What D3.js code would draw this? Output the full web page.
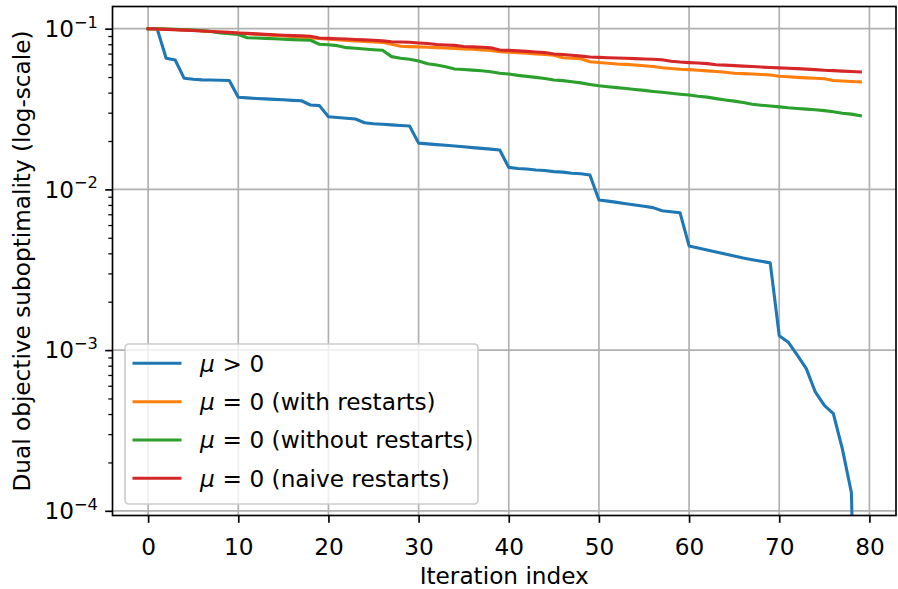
<!DOCTYPE html>
<html>
<head>
<meta charset="utf-8">
<script src="https://cdn.jsdelivr.net/npm/d3@7"></script>
<style>
  body { margin: 0; background: #fff; }
  svg { display: block; font-family: "DejaVu Sans", sans-serif; }
</style>
</head>
<body>
<svg id="chart" width="898" height="589"></svg>
<script>
// ---------- data ----------
const iterations = d3.range(0, 80);

const muPositive = [
  0.1, 0.1, 0.0655, 0.0638, 0.0491, 0.0484, 0.0480, 0.0479, 0.0478, 0.0476,
  0.0374, 0.0371, 0.0368, 0.0366, 0.0363, 0.0361, 0.0358, 0.0356, 0.0335, 0.0332,
  0.0283, 0.0280, 0.0277, 0.0274, 0.0260, 0.0256, 0.0254, 0.0252, 0.0250, 0.0248,
  0.0194, 0.0192, 0.0190, 0.0188, 0.0186, 0.0184, 0.0182, 0.0180, 0.0178, 0.0176,
  0.0137, 0.0135, 0.0134, 0.0132, 0.0131, 0.0129, 0.0128, 0.0126, 0.0125, 0.0123,
  0.00860, 0.00845, 0.00830, 0.00815, 0.00800, 0.00785, 0.00770, 0.00736, 0.00725, 0.00715,
  0.00445, 0.00432, 0.00420, 0.00408, 0.00396, 0.00385, 0.00374, 0.00365, 0.00357, 0.00349,
  0.00123, 0.00112, 0.00093, 0.000767, 0.000549, 0.000453, 0.000402, 0.000243, 0.000130, 0.000001
];

const muZeroWith = [
  0.1, 0.0996, 0.0992, 0.0987, 0.0982, 0.0976, 0.0969, 0.0961, 0.0953, 0.0946,
  0.0938, 0.0931, 0.0924, 0.0917, 0.0909, 0.0901, 0.0893, 0.0885, 0.0877, 0.0868,
  0.0860, 0.0853, 0.0846, 0.0839, 0.0832, 0.0826, 0.0822, 0.0800, 0.0777, 0.0773,
  0.0770, 0.0766, 0.0762, 0.0758, 0.0754, 0.0749, 0.0744, 0.0738, 0.0733, 0.0718,
  0.0714, 0.0709, 0.0703, 0.0697, 0.0690, 0.0683, 0.0660, 0.0655, 0.0650, 0.0622,
  0.0616, 0.0610, 0.0603, 0.0600, 0.0594, 0.0588, 0.0582, 0.0571, 0.0565, 0.0559,
  0.0556, 0.0551, 0.0546, 0.0541, 0.0536, 0.0528, 0.0525, 0.0522, 0.0519, 0.0515,
  0.0506, 0.0502, 0.0498, 0.0494, 0.0491, 0.0488, 0.0476, 0.0472, 0.0469, 0.0466
];

const muZeroWithout = [
  0.1, 0.0998, 0.0995, 0.0990, 0.0985, 0.0980, 0.0970, 0.0960, 0.0940, 0.0930,
  0.0920, 0.0879, 0.0875, 0.0870, 0.0866, 0.0860, 0.0855, 0.0850, 0.0847, 0.0800,
  0.0795, 0.0784, 0.0762, 0.0755, 0.0748, 0.0740, 0.0734, 0.0670, 0.0655, 0.0645,
  0.0630, 0.0605, 0.0595, 0.0580, 0.0561, 0.0557, 0.0552, 0.0547, 0.0540, 0.0528,
  0.0522, 0.0512, 0.0505, 0.0498, 0.0490, 0.0479, 0.0475, 0.0468, 0.0460, 0.0450,
  0.0441, 0.0435, 0.0430, 0.0424, 0.0418, 0.0413, 0.0407, 0.0402, 0.0396, 0.0391,
  0.0387, 0.0380, 0.0375, 0.0367, 0.0360, 0.0354, 0.0347, 0.0339, 0.0334, 0.0330,
  0.0326, 0.0322, 0.0319, 0.0316, 0.0313, 0.0309, 0.0304, 0.0298, 0.0294, 0.0287
];

const muZeroNaive = [
  0.1, 0.0995, 0.0990, 0.0985, 0.0980, 0.0975, 0.0968, 0.0960, 0.0954, 0.0948,
  0.0940, 0.0935, 0.0928, 0.0922, 0.0916, 0.0910, 0.0905, 0.0902, 0.0898, 0.0875,
  0.0870, 0.0866, 0.0862, 0.0857, 0.0852, 0.0848, 0.0840, 0.0830, 0.0826, 0.0823,
  0.0815, 0.0808, 0.0798, 0.0792, 0.0787, 0.0775, 0.0770, 0.0766, 0.0760, 0.0737,
  0.0733, 0.0728, 0.0722, 0.0716, 0.0710, 0.0695, 0.0690, 0.0683, 0.0675, 0.0667,
  0.0663, 0.0660, 0.0657, 0.0654, 0.0651, 0.0648, 0.0645, 0.0640, 0.0627, 0.0620,
  0.0615, 0.0611, 0.0606, 0.0597, 0.0593, 0.0589, 0.0585, 0.0581, 0.0577, 0.0573,
  0.0570, 0.0567, 0.0564, 0.0560, 0.0556, 0.0551, 0.0548, 0.0544, 0.0541, 0.0538
];

const seriesNames = ["μ > 0", "μ = 0 (with restarts)", "μ = 0 (without restarts)", "μ = 0 (naive restarts)"];
const seriesColors = ["#1f77b4", "#ff7f0e", "#2ca02c", "#d62728"];
const seriesValues = [muPositive, muZeroWith, muZeroWithout, muZeroNaive];

const xTicks = [0, 10, 20, 30, 40, 50, 60, 70, 80];
const yTicks = [1e-1, 1e-2, 1e-3, 1e-4];
const yTickExponents = ["−1", "−2", "−3", "−4"];
const xDomain = [-3.95, 82.95];
const yDomain = [9.35e-5, 0.1374];

// ---------- layout ----------
const L = 112.5, R = 896, T = 6.5, B = 515.5;
const FS = 23.2;
const svg = d3.select("#chart");

const x = d3.scaleLinear().domain(xDomain).range([L, R]);
const y = d3.scaleLog().domain(yDomain).range([B, T]);

svg.append("defs").append("clipPath").attr("id", "clip")
  .append("rect").attr("x", L).attr("y", T).attr("width", R - L).attr("height", B - T);

// grid
const grid = svg.append("g");
grid.selectAll(".gx").data(xTicks).join("line")
  .attr("x1", d => x(d)).attr("x2", d => x(d)).attr("y1", T).attr("y2", B)
  .attr("stroke", "#b0b0b0").attr("stroke-width", 1.67);
grid.selectAll(".gy").data(yTicks).join("line")
  .attr("x1", L).attr("x2", R).attr("y1", d => y(d)).attr("y2", d => y(d))
  .attr("stroke", "#b0b0b0").attr("stroke-width", 1.67);

// lines
const line = d3.line().x((d, i) => x(iterations[i])).y(d => y(d));
const lines = svg.append("g").attr("clip-path", "url(#clip)");
seriesValues.forEach((vals, k) => {
  lines.append("path").datum(vals)
    .attr("d", line)
    .attr("fill", "none")
    .attr("stroke", seriesColors[k])
    .attr("stroke-width", 3.1)
    .attr("stroke-linejoin", "round")
    .attr("stroke-linecap", "square");
});

// axes
const xAxis = d3.axisBottom(x).tickValues(xTicks).tickSize(7.3).tickPadding(7.3).tickFormat(d3.format("d"));
const gx = svg.append("g").attr("transform", `translate(0,${B})`).call(xAxis);
gx.select(".domain").remove();
gx.selectAll(".tick line").attr("stroke", "#000").attr("stroke-width", 1.67);
gx.selectAll(".tick text").attr("font-size", FS).attr("fill", "#000")
  .attr("font-family", "DejaVu Sans")
  .attr("y", 39).attr("dy", null);

// y axis: major + minor ticks
const minor = [];
for (let e = -5; e <= -1; e++) for (let m = 2; m <= 9; m++) {
  const v = m * Math.pow(10, e);
  if (v >= yDomain[0] && v <= yDomain[1]) minor.push(v);
}
const gy = svg.append("g").attr("transform", `translate(${L},0)`);
gy.call(d3.axisLeft(y).tickValues(minor).tickSize(4.2).tickFormat(""));
gy.select(".domain").remove();
gy.selectAll(".tick line").attr("stroke", "#000").attr("stroke-width", 1.25);
const gyM = svg.append("g").attr("transform", `translate(${L},0)`);
gyM.call(d3.axisLeft(y).tickValues(yTicks).tickSize(7.3).tickFormat(""));
gyM.select(".domain").remove();
gyM.selectAll(".tick line").attr("stroke", "#000").attr("stroke-width", 1.67);

// y tick labels 10^{-k}
yTicks.forEach((v, i) => {
  const t = svg.append("text")
    .attr("x", L - 14.6).attr("y", y(v) + 8.4)
    .attr("text-anchor", "end").attr("font-size", FS).attr("fill", "#000");
  t.append("tspan").text("10");
  t.append("tspan").attr("dy", -9.5).attr("font-size", FS * 0.7).text(yTickExponents[i]);
});

// spines
svg.append("rect").attr("x", L).attr("y", T).attr("width", R - L).attr("height", B - T)
  .attr("fill", "none").attr("stroke", "#000").attr("stroke-width", 1.67);

// axis labels
svg.append("text").attr("x", (L + R) / 2).attr("y", 584)
  .attr("text-anchor", "middle").attr("font-size", FS).attr("fill", "#000")
  .text("Iteration index");
svg.append("text").attr("transform", `translate(30,${(T + B) / 2}) rotate(-90)`)
  .attr("text-anchor", "middle").attr("font-size", FS).attr("fill", "#000")
  .text("Dual objective suboptimality (log-scale)");

// legend
const lg = svg.append("g");
lg.append("rect").attr("x", 125).attr("y", 344).attr("width", 353).attr("height", 160)
  .attr("rx", 4).attr("fill", "#fff").attr("fill-opacity", 0.8)
  .attr("stroke", "#cccccc").attr("stroke-width", 1.67);
const rowY = [363.3, 401.7, 440, 478.3];
seriesNames.forEach((name, k) => {
  lg.append("line").attr("x1", 132.5).attr("x2", 181.5)
    .attr("y1", rowY[k]).attr("y2", rowY[k])
    .attr("stroke", seriesColors[k]).attr("stroke-width", 3.1);
  const t = lg.append("text").attr("x", 200).attr("y", rowY[k] + 8.2)
    .attr("font-size", FS).attr("fill", "#000");
  const rest = name.slice(1);
  const op = rest.slice(0, 3);     // " > " or " = "
  const tail = rest.slice(3);
  t.append("tspan").attr("font-style", "italic").text("μ");
  t.append("tspan").attr("xml:space", "preserve").text(op.replace(/ /g, "\u2004"));
  t.append("tspan").text(tail);
});
</script>
</body>
</html>
